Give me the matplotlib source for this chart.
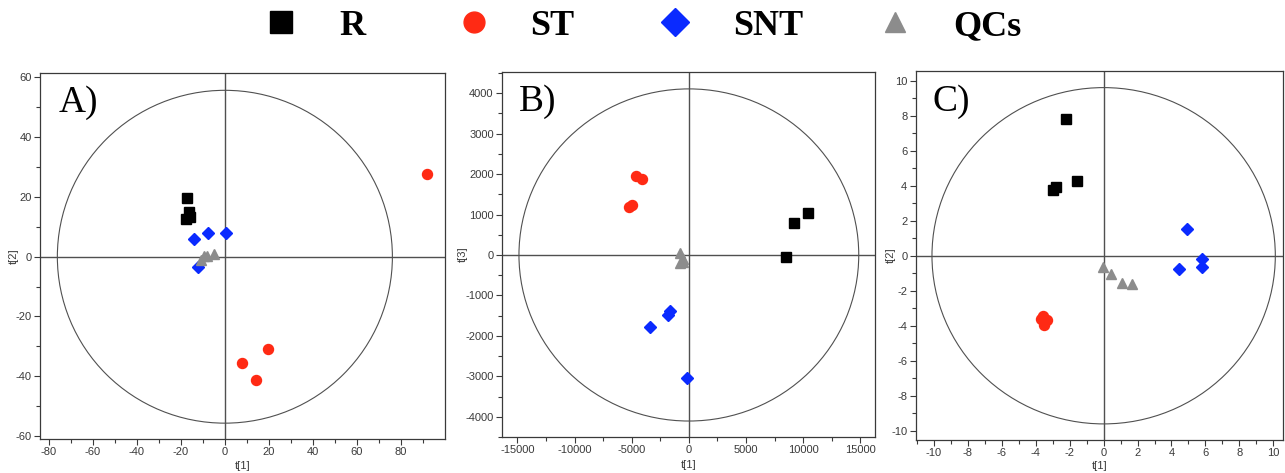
import matplotlib.pyplot as plt
import numpy as np
from matplotlib.patches import Ellipse
from matplotlib.lines import Line2D
from matplotlib.ticker import MultipleLocator, FixedLocator

plt.rcParams['axes.unicode_minus'] = False

# panel A: t[1] vs t[2]
a_R = [(-17.1, 19.7), (-16.3, 15.0), (-16.0, 13.4), (-17.5, 12.5)]
a_ST = [(91.7, 27.8), (7.6, -35.4), (19.4, -31.0), (14.1, -41.3)]
a_SNT = [(-13.9, 6.0), (-7.7, 7.8), (0.3, 8.0), (-12.0, -3.6)]
a_QC = [(-11.0, -1.0), (-9.5, 0.2), (-8.0, 0.4), (-5.0, 1.0)]

# panel B: t[1] vs t[3]
b_R = [(10410, 1040), (9240, 795), (8460, -45)]
b_ST = [(-4600, 1955), (-4110, 1890), (-5250, 1190), (-4950, 1240)]
b_SNT = [(-1630, -1380), (-1840, -1490), (-3440, -1790), (-175, -3050)]
b_QC = [(-780, 60), (-550, -90), (-800, -200), (-480, -170)]

# panel C: t[1] vs t[2]
c_R = [(-2.2, 7.8), (-2.97, 3.76), (-2.81, 3.94), (-1.59, 4.28)]
c_ST = [(-3.7, -3.6), (-3.55, -3.45), (-3.35, -3.7), (-3.5, -3.95)]
c_SNT = [(4.91, 1.51), (5.80, -0.2), (5.80, -0.66), (4.46, -0.77)]
c_QC = [(-0.02, -0.66), (0.41, -1.06), (1.10, -1.58), (1.67, -1.63)]

groups = ['R', 'ST', 'SNT', 'QCs']
colors = ['black', '#ff2a14', '#0a2aff', '#8c8c8c']
markers = ['s', 'o', 'D', '^']
msizes = [6.5, 7.2, 6.2, 7.5]

tick_font = dict(family='Liberation Sans', size=8)
ink = '#3a3a3a'

fig = plt.figure(figsize=(12.85, 4.73), dpi=100)

panels = [
    ([0.0311, 0.0719, 0.3152, 0.7738], [a_R, a_ST, a_SNT, a_QC], (-84, 100), (-61, 61.5),
     (76.1, 55.7), (np.arange(-80, 81, 20), np.arange(-80, 91, 10)), (20, 10), 't[2]', 'A)',
     (-0.052, -0.060)),
    ([0.3907, 0.0761, 0.2903, 0.7723], [b_R, b_ST, b_SNT, b_QC], (-16350, 16300), (-4500, 4530),
     (14870, 4105), (np.arange(-15000, 15001, 5000), np.arange(-15000, 16001, 2500)), (1000, 500),
     't[3]', 'B)', (-0.091, -0.063)),
    ([0.7126, 0.0698, 0.2858, 0.7801], [c_R, c_ST, c_SNT, c_QC], (-11.08, 10.57), (-10.54, 10.57),
     (10.12, 9.62), (np.arange(-10, 11, 2), np.arange(-11, 11, 1)), (2, 1), 't[2]', 'C)',
     (-0.054, -0.057)),
]

for rect, data, xl, yl, rad, xt, yt, ylab, tag, labpos in panels:
    ax = fig.add_axes(rect)
    ax.axhline(0, color='#505050', lw=1, zorder=1)
    ax.axvline(0, color='#505050', lw=1, zorder=1)
    ax.add_patch(Ellipse((0, 0), 2 * rad[0], 2 * rad[1], fill=False,
                         edgecolor='#505050', lw=0.8, zorder=1))
    for pts, col, mk, ms in zip(data, colors, markers, msizes):
        xs = [p[0] for p in pts]
        ys = [p[1] for p in pts]
        ax.plot(xs, ys, ls='none', marker=mk, color=col, ms=ms, mec=col, zorder=3)
    ax.set_xlim(xl)
    ax.set_ylim(yl)
    ax.xaxis.set_major_locator(FixedLocator(xt[0]))
    ax.xaxis.set_minor_locator(FixedLocator(xt[1]))
    ax.yaxis.set_major_locator(MultipleLocator(yt[0]))
    ax.yaxis.set_minor_locator(MultipleLocator(yt[1]))
    ax.tick_params(which='major', length=4, width=0.8, color=ink, labelcolor=ink, pad=2)
    ax.tick_params(which='minor', length=3, width=0.8, color=ink)
    for lab in ax.get_xticklabels() + ax.get_yticklabels():
        lab.set_fontfamily('Liberation Sans')
        lab.set_fontsize(8)
    for sp in ax.spines.values():
        sp.set_color(ink)
        sp.set_linewidth(0.9)
    ax.set_xlabel('t[1]', fontdict=tick_font, color=ink)
    ax.set_ylabel(ylab, fontdict=tick_font, color=ink)
    ax.yaxis.set_label_coords(labpos[0], 0.5)
    ax.xaxis.set_label_coords(0.5, labpos[1])
    ax.text(0.045, 0.965, tag, transform=ax.transAxes, ha='left', va='top',
            family='Liberation Serif', fontsize=27)

# legend along the top, laid out by hand
W, H = 1285, 473
leg_marker_x = [280.7, 474, 675, 895]
leg_text_x = [339, 530, 733, 953]
leg_ms = [16.5, 15, 13.8, 15]
for mk, col, ms, mx, tx, name in zip(markers, colors, leg_ms, leg_marker_x, leg_text_x, groups):
    fig.add_artist(Line2D([mx / W], [1 - 22 / H], transform=fig.transFigure, ls='none',
                          marker=mk, color=col, mec=col, ms=ms))
    fig.text(tx / W, 1 - 35 / H, name, ha='left', va='baseline',
             family='Liberation Serif', weight='bold', fontsize=26)

fig.savefig('out.png', dpi=100)
